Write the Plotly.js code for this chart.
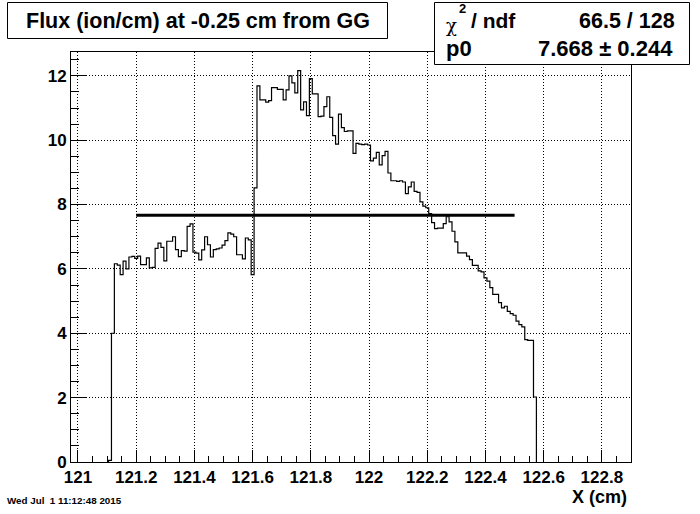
<!DOCTYPE html>
<html>
<head>
<meta charset="utf-8">
<script src="https://cdn.plot.ly/plotly-3.0.1.min.js"></script>
<style>html,body{margin:0;padding:0;background:#fff;}#plot{width:700px;height:514px;}</style>
</head>
<body>
<div id="plot"></div>
<script>
// Histogram definition (bin grid) and bin contents
const binLow = 121.105;
const binWidth = 0.01;
const counts = [
  0.05, 4.00, 6.16, 6.12, 5.82, 6.24, 6.00, 6.37, 6.39, 6.33,
  6.40, 6.13, 6.13, 6.34, 6.03, 6.05, 6.64, 6.80, 6.67, 6.25,
  6.86, 6.86, 7.00, 6.60, 6.38, 6.57, 6.55, 7.32, 7.40, 6.52,
  6.49, 6.28, 6.59, 7.00, 6.75, 6.37, 6.60, 6.62, 6.65, 6.74,
  6.88, 7.12, 7.08, 7.00, 6.44, 6.44, 6.31, 6.96, 6.90, 5.82,
  8.52, 11.69, 11.25, 11.25, 11.18, 11.23, 11.63, 11.63, 11.58, 11.58,
  11.25, 11.56, 12.00, 11.78, 11.47, 12.16, 10.94, 11.19, 10.76, 11.91,
  11.44, 11.44, 10.73, 10.75, 11.04, 11.35, 10.71, 10.14, 9.88, 10.81,
  10.39, 10.27, 10.29, 10.29, 9.59, 9.90, 9.88, 9.86, 9.88, 9.85,
  9.36, 9.44, 9.62, 9.23, 9.52, 9.65, 8.98, 8.74, 8.74, 8.72,
  8.74, 8.70, 8.34, 8.55, 8.70, 8.41, 8.38, 8.08, 7.95, 7.90,
  7.72, 7.44, 7.25, 7.27, 7.27, 7.41, 7.62, 7.46, 7.17, 6.84,
  6.50, 6.50, 6.50, 6.40, 6.29, 6.11, 6.11, 5.94, 5.91, 5.72,
  5.62, 5.42, 5.21, 5.21, 4.95, 4.79, 4.84, 4.68, 4.61, 4.56,
  4.38, 4.27, 4.20, 3.80, 3.78, 3.78, 2.02
];

// Fit result (pol0)
const fitLow = 121.2;
const fitHigh = 122.5;
const p0 = 7.668;
const p0Err = 0.244;
const chi2 = 66.5;
const ndf = 128;

// Axes
const xRange = [120.976, 122.9];
const yRange = [0, 12.74];
const xTickVals = [121, 121.2, 121.4, 121.6, 121.8, 122, 122.2, 122.4, 122.6, 122.8];
const xTickText = ['121', '121.2', '121.4', '121.6', '121.8', '122', '122.2', '122.4', '122.6', '122.8'];
const yTickVals = [0, 2, 4, 6, 8, 10, 12];
const yTickText = ['0', '2', '4', '6', '8', '10', '12'];

const titleText = 'Flux (ion/cm) at -0.25 cm from GG';
const xTitle = 'X (cm)';
const dateText = 'Wed Jul&nbsp; 1 11:12:48 2015';

// Build step outline from bins
const hx = [binLow];
const hy = [0];
for (let i = 0; i < counts.length; i++) {
  hx.push(binLow + i * binWidth);
  hy.push(counts[i]);
}
const hiEdge = binLow + counts.length * binWidth;
hx.push(hiEdge); hy.push(counts[counts.length - 1]);
hx.push(hiEdge); hy.push(0);

const FONT = 'Liberation Sans, Arial, Helvetica, sans-serif';

const traces = [
  {
    type: 'scatter', mode: 'lines', x: hx, y: hy,
    line: {shape: 'hv', color: '#000', width: 1.2},
    hoverinfo: 'skip'
  },
  {
    type: 'scatter', mode: 'lines', x: [fitLow, fitHigh], y: [p0, p0],
    line: {color: '#000', width: 3.2},
    hoverinfo: 'skip'
  }
];

// pixel -> paper helpers (plot area: x 71..631, y 52..462)
const L = 71, W = 560, B = 462, H = 410;
const px = v => (v - L) / W;
const py = v => (B - v) / H;

const layout = {
  width: 700, height: 514,
  margin: {l: L, r: 700 - L - W, t: 52, b: 514 - B},
  paper_bgcolor: '#fff', plot_bgcolor: '#fff',
  showlegend: false,
  font: {family: FONT, color: '#000'},
  xaxis: {
    range: xRange, tickmode: 'array', tickvals: xTickVals, ticktext: xTickText,
    ticks: 'inside', ticklen: 12, tickwidth: 1, tickcolor: '#000',
    minor: {tick0: 121, dtick: 0.05, ticks: 'inside', ticklen: 6, tickcolor: '#000', showgrid: false},
    showline: true, mirror: true, linecolor: '#000', linewidth: 1,
    showgrid: true, gridcolor: '#000', gridwidth: 1, griddash: '1px,2px',
    zeroline: false,
    tickfont: {family: FONT, size: 17, weight: 'bold', color: '#000'}
  },
  yaxis: {
    range: yRange, tickmode: 'array', tickvals: yTickVals, ticktext: yTickText,
    ticks: 'inside', ticklen: 16, tickwidth: 1, tickcolor: '#000',
    minor: {tick0: 0, dtick: 0.5, ticks: 'inside', ticklen: 8, tickcolor: '#000', showgrid: false},
    showline: true, mirror: true, linecolor: '#000', linewidth: 1,
    showgrid: true, gridcolor: '#000', gridwidth: 1, griddash: '1px,2px',
    zeroline: false,
    tickfont: {family: FONT, size: 17, weight: 'bold', color: '#000'}
  },
  shapes: [
    {type: 'rect', xref: 'paper', yref: 'paper', layer: 'above',
     x0: px(7.5), x1: px(387.5), y0: py(38.5), y1: py(2.5),
     line: {color: '#000', width: 1}, fillcolor: '#fff'},
    {type: 'rect', xref: 'paper', yref: 'paper', layer: 'above',
     x0: px(434.5), x1: px(689.5), y0: py(64.5), y1: py(2.5),
     line: {color: '#000', width: 1}, fillcolor: '#fff'}
  ],
  annotations: [
    {xref: 'paper', yref: 'paper', x: px(198), y: py(21), xanchor: 'center', yanchor: 'middle',
     text: '<b>' + titleText + '</b>', showarrow: false,
     font: {family: FONT, size: 21.5, color: '#000'}},
    {xref: 'paper', yref: 'paper', x: px(451), y: py(26), xanchor: 'center', yanchor: 'middle',
     text: 'χ', showarrow: false, borderpad: 0,
     font: {family: 'DejaVu Serif, Liberation Serif, serif', size: 18, color: '#000'}},
    {xref: 'paper', yref: 'paper', x: px(462), y: py(9), xanchor: 'center', yanchor: 'middle',
     text: '<b>2</b>', showarrow: false,
     font: {family: FONT, size: 13, color: '#000'}},
    {xref: 'paper', yref: 'paper', x: px(493), y: py(21), xanchor: 'center', yanchor: 'middle',
     text: '<b>/ ndf</b>', showarrow: false,
     font: {family: FONT, size: 21, color: '#000'}},
    {xref: 'paper', yref: 'paper', x: px(627), y: py(21), xanchor: 'center', yanchor: 'middle',
     text: '<b>' + chi2.toFixed(1) + ' / ' + ndf + '</b>', showarrow: false,
     font: {family: FONT, size: 21.5, color: '#000'}},
    {xref: 'paper', yref: 'paper', x: px(459), y: py(48), xanchor: 'center', yanchor: 'middle',
     text: '<b>p0</b>', showarrow: false, borderpad: 0,
     font: {family: FONT, size: 22, color: '#000'}},
    {xref: 'paper', yref: 'paper', x: px(605), y: py(48), xanchor: 'center', yanchor: 'middle',
     text: '<b>' + p0.toFixed(3) + ' ± ' + p0Err.toFixed(3) + '</b>', showarrow: false,
     font: {family: FONT, size: 22, color: '#000'}},
    {xref: 'paper', yref: 'paper', x: px(629), y: py(497), xanchor: 'right', yanchor: 'middle',
     text: '<b>' + xTitle + '</b>', showarrow: false,
     font: {family: FONT, size: 18, color: '#000'}},
    {xref: 'paper', yref: 'paper', x: px(5), y: py(500), xanchor: 'left', yanchor: 'middle',
     text: '<b>' + dateText + '</b>', showarrow: false,
     font: {family: FONT, size: 9.8, color: '#000'}}
  ]
};

Plotly.newPlot('plot', traces, layout, {staticPlot: true, displayModeBar: false});
</script>
</body>
</html>
